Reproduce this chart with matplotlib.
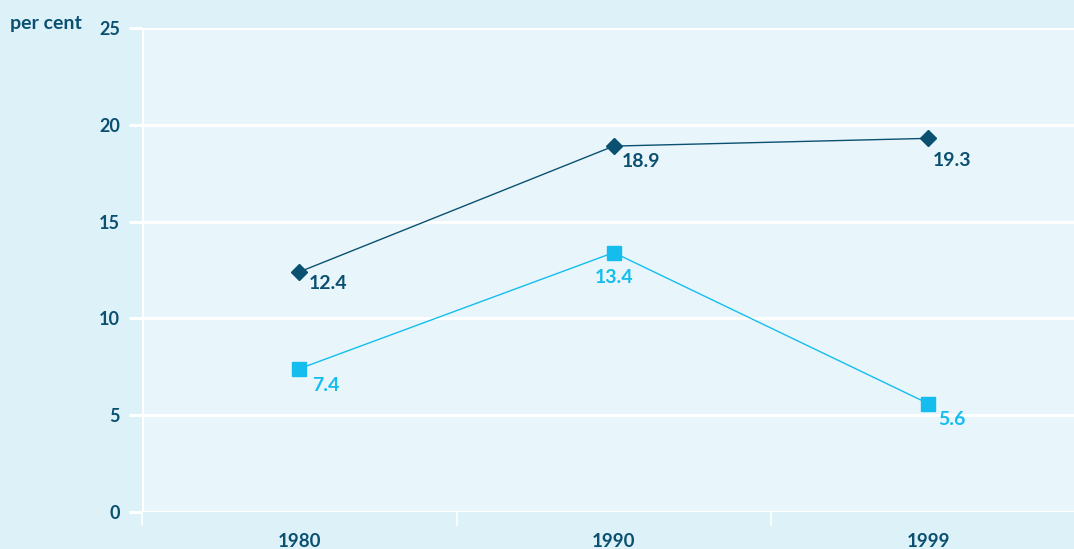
import matplotlib
matplotlib.use("Agg")
import matplotlib.pyplot as plt
from matplotlib.ticker import FixedLocator

years = ["1980", "1990", "1999"]
series_dark = [12.4, 18.9, 19.3]
series_light = [7.4, 13.4, 5.6]
yticks = [0, 5, 10, 15, 20, 25]

DARK = "#0b5070"
LIGHT = "#14bdee"
OUTER = "#ddf1f9"
INNER = "#e8f6fc"

plt.rcParams['font.family'] = ['Lato', 'DejaVu Sans']

fig = plt.figure(figsize=(10.74, 5.49), dpi=100, facecolor=OUTER)
W, H = 1074, 549
left, right, top, bottom = 142, 1074, 28, 512
ax = fig.add_axes([left / W, 1 - bottom / H, (right - left) / W, (bottom - top) / H])
ax.set_facecolor(INNER)

x = list(range(len(years)))
band = 314.5
ax.set_xlim(-0.5, -0.5 + (right - left) / band)
ax.set_ylim(0, 25)

for s in ax.spines.values():
    s.set_visible(False)
ax.axvline(-0.5, color="white", lw=2.2, zorder=1)
ax.set_yticks(yticks)
ax.yaxis.grid(True, color="white", lw=2.2, zorder=1)
ax.set_axisbelow(True)
ax.tick_params(axis="y", length=9.5, width=2.2, color="white", pad=6.5,
               labelsize=13, labelcolor=DARK)
ax.set_yticklabels([str(v) for v in yticks], fontweight="bold")

ax.set_xticks(x)
ax.set_xticklabels(years, fontweight="bold", fontsize=13.5, color=DARK)
ax.tick_params(axis="x", length=0, pad=15)
ax.xaxis.set_minor_locator(FixedLocator([-0.5, 0.5, 1.5]))
ax.tick_params(axis="x", which="minor", length=10, width=1.2, color="white")

ax.plot(x, series_dark, color=DARK, lw=1, marker="D", ms=8, zorder=3)
ax.plot(x, series_light, color=LIGHT, lw=1, marker="s", ms=9.5, zorder=3)

dark_off = [(7, -2.5), (6, -5), (3, -10)]
for xi, v, (dx, dy) in zip(x, series_dark, dark_off):
    ax.annotate(f"{v:.1f}", (xi, v), xytext=(dx, dy), textcoords="offset points",
                ha="left", va="top", color=DARK, fontsize=14, fontweight="bold")
light_off = [(9, -6), (0, -12), (7, -5.5)]
light_ha = ["left", "center", "left"]
for xi, v, (dx, dy), ha in zip(x, series_light, light_off, light_ha):
    ax.annotate(f"{v:.1f}", (xi, v), xytext=(dx, dy), textcoords="offset points",
                ha=ha, va="top", color=LIGHT, fontsize=14, fontweight="bold")

fig.text(10 / W, 1 - 23 / H, "per cent", ha="left", va="center",
         color=DARK, fontsize=14, fontweight="bold")

fig.savefig("out.png", dpi=100, facecolor=OUTER)
